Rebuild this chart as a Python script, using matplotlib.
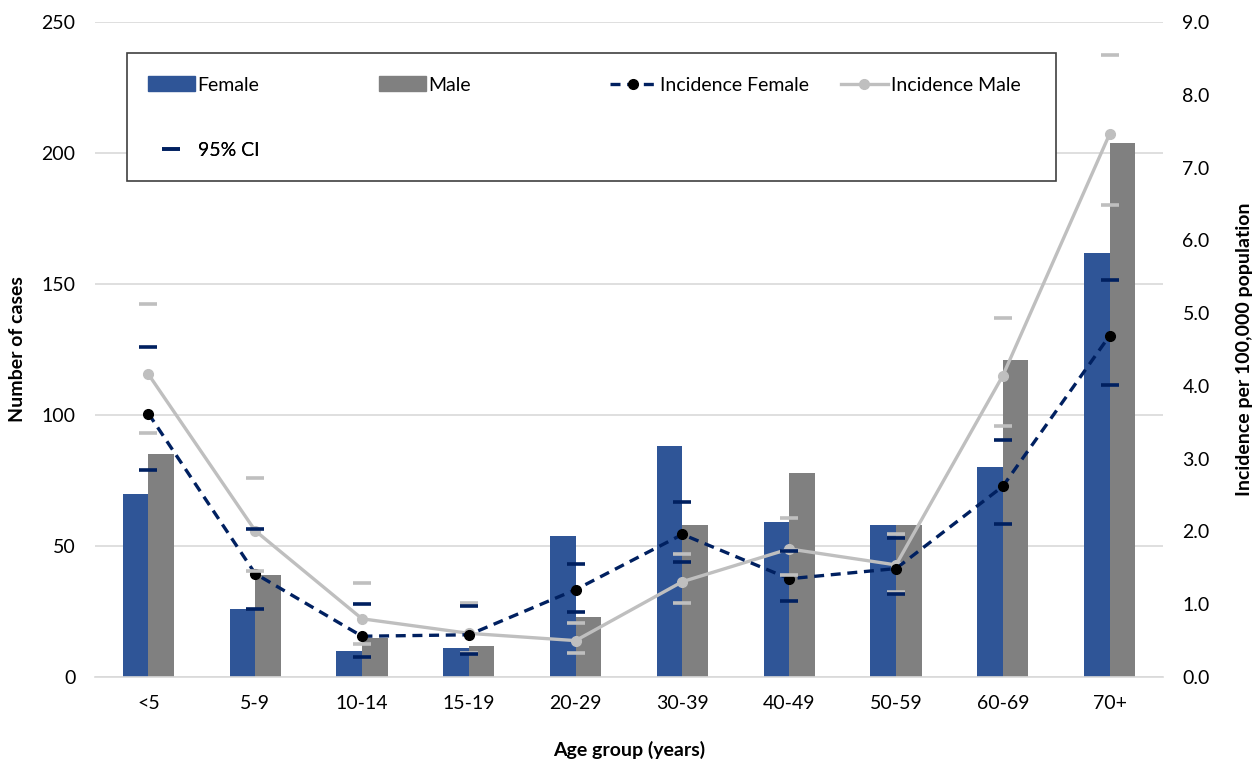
import numpy as np
import matplotlib
matplotlib.use("Agg")
import matplotlib.pyplot as plt
from matplotlib.lines import Line2D
from matplotlib.patches import Patch, Rectangle

plt.rcParams['font.family'] = ['Lato', 'DejaVu Sans']

age_groups = ['<5', '5-9', '10-14', '15-19', '20-29', '30-39', '40-49', '50-59', '60-69', '70+']

cases_female = [70, 26, 10, 11, 54, 88, 59, 58, 80, 162]
cases_male = [85, 39, 15, 12, 23, 58, 78, 58, 121, 204]

inc_female = [3.62, 1.42, 0.56, 0.58, 1.20, 1.96, 1.35, 1.49, 2.62, 4.69]
inc_male = [4.16, 2.01, 0.80, 0.60, 0.50, 1.31, 1.76, 1.54, 4.14, 7.46]

ci_female_low = [2.84, 0.94, 0.28, 0.31, 0.90, 1.58, 1.04, 1.14, 2.10, 4.01]
ci_female_high = [4.54, 2.04, 1.00, 0.98, 1.55, 2.40, 1.73, 1.91, 3.26, 5.45]
ci_male_low = [3.35, 1.46, 0.46, 0.33, 0.33, 1.01, 1.40, 1.17, 3.45, 6.48]
ci_male_high = [5.12, 2.73, 1.29, 1.02, 0.74, 1.69, 2.18, 1.97, 4.93, 8.54]

c_female = '#2F5597'
c_male = '#808080'
c_navy = '#002060'
c_light = '#BFBFBF'
fs = 14

fig = plt.figure(figsize=(12.57, 7.62), dpi=100)
ax = fig.add_axes([95 / 1257, 85 / 762, 1068 / 1257, 655 / 762])
ax2 = ax.twinx()

x = np.arange(len(age_groups))
w = 0.24
ax.bar(x - w / 2, cases_female, w, color=c_female, zorder=2)
ax.bar(x + w / 2, cases_male, w, color=c_male, zorder=2)

ax.set_xlim(-0.5, len(age_groups) - 0.5)
ax.set_ylim(0, 250)
ax.set_yticks(range(0, 251, 50))
ax.set_xticks(x)
ax.set_xticklabels(age_groups)
ax.grid(axis='y', color='#D9D9D9', linewidth=1.2, zorder=0)
ax.set_axisbelow(True)
for s in ['top', 'left', 'right']:
    ax.spines[s].set_visible(False)
ax.spines['bottom'].set_color('#D9D9D9')
ax.spines['bottom'].set_linewidth(1.2)
ax.tick_params(axis='x', length=0, pad=13, labelsize=fs)
ax.tick_params(axis='y', length=0, pad=14, labelsize=fs)
ax.set_xlabel('Age group (years)', fontsize=fs, fontweight='bold', labelpad=21)
ax.set_ylabel('Number of cases', fontsize=fs, fontweight='bold', labelpad=11)

# incidence lines and confidence limits on the secondary axis
ax2.plot(x, inc_female, color=c_navy, lw=2.4, ls=(0, (3, 2)), marker='o',
         ms=7, mfc='black', mec='black', zorder=4)
ax2.plot(x, inc_male, color=c_light, lw=2.4, marker='o', ms=7,
         mfc=c_light, mec=c_light, zorder=3)
for lo, hi, col in [(ci_male_low, ci_male_high, c_light),
                    (ci_female_low, ci_female_high, c_navy)]:
    ax2.plot(x, lo, ls='none', marker='_', ms=13, mew=2.6, color=col, zorder=5)
    ax2.plot(x, hi, ls='none', marker='_', ms=13, mew=2.6, color=col, zorder=5)

ax2.set_ylim(0, 9)
ticks_r = np.arange(0, 9.1, 1.0)
ax2.set_yticks(ticks_r)
ax2.set_yticklabels([f'{v:.1f}' for v in ticks_r])
for s in ['top', 'left', 'right', 'bottom']:
    ax2.spines[s].set_visible(False)
ax2.tick_params(axis='y', length=0, pad=14, labelsize=fs)
ax2.set_ylabel('Incidence per 100,000 population', fontsize=fs,
               fontweight='bold', labelpad=19)

# legend: framed box with evenly spaced columns
ax2.add_patch(Rectangle((32 / 1068, 496 / 655), 929 / 1068, 128 / 655,
                        transform=ax2.transAxes, fill=True, facecolor='white',
                        edgecolor='#404040', lw=1.2, zorder=6))
entries = [
    (Patch(color=c_female), 'Female', 0, 0),
    (Patch(color=c_male), 'Male', 1, 0),
    (Line2D([], [], color=c_navy, lw=2.4, ls=(0, (3, 2)), marker='o', ms=7,
            mfc='black', mec='black'), 'Incidence Female', 2, 0),
    (Line2D([], [], color=c_light, lw=2.4, marker='o', ms=7, mfc=c_light,
            mec=c_light), 'Incidence Male', 3, 0),
    (Line2D([], [], ls='none', marker='_', ms=13, mew=2.6, color=c_navy),
     '95% CI', 0, 1),
]
for handle, label, col, row in entries:
    lx = (53 + col * 231) / 1068
    ly = (592 - row * 65) / 655
    leg = ax2.legend([handle], [label], loc='center left',
                     bbox_to_anchor=(lx, ly), frameon=False, fontsize=fs,
                     handlelength=2.4, handleheight=0.8, handletextpad=0.15,
                     borderpad=0, borderaxespad=0)
    leg.set_zorder(7)
    ax2.add_artist(leg)

fig.savefig('out.png', dpi=100)
